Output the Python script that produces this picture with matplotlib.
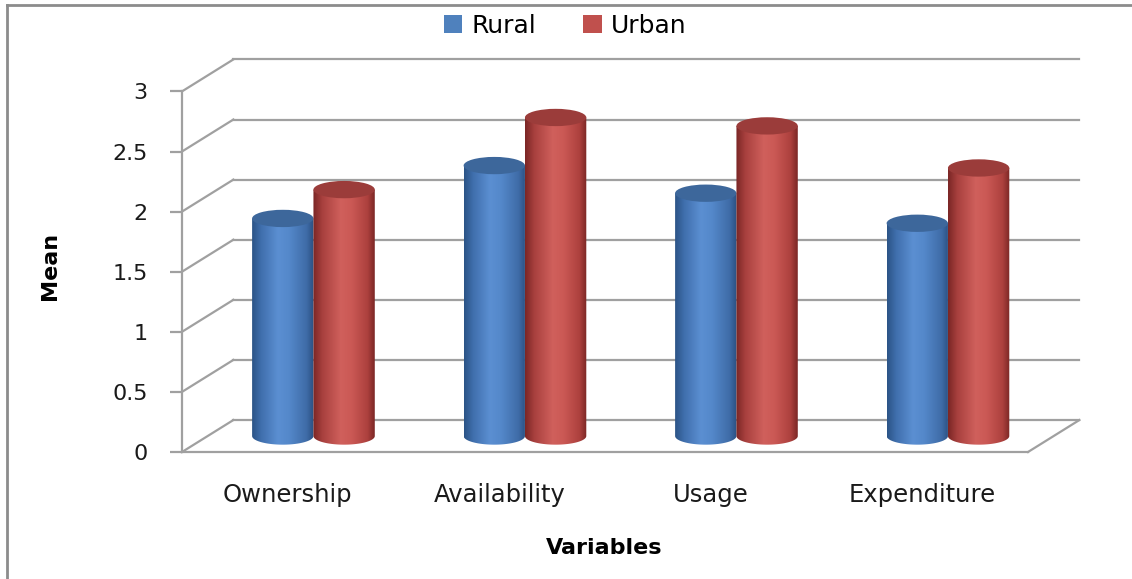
import numpy as np
import matplotlib
matplotlib.use("Agg")
import matplotlib.pyplot as plt
from matplotlib.patches import Ellipse, Patch, Polygon
from matplotlib.colors import LinearSegmentedColormap
from matplotlib.lines import Line2D

categories = ["Ownership", "Availability", "Usage", "Expenditure"]
rural = [1.81, 2.25, 2.02, 1.77]
urban = [2.05, 2.65, 2.58, 2.23]
yticks = [0, 0.5, 1, 1.5, 2, 2.5, 3]
yticklabels = ["0", "0.5", "1", "1.5", "2", "2.5", "3"]

# oblique depth of the 3-d box, in data units
DX = 0.243
DY = 0.266
BAR_W = 0.29
CAP_H = 0.072
GRID = "#a0a0a0"

blue_body = LinearSegmentedColormap.from_list("blue_body", [
    (0.0, "#2b5386"), (0.15, "#406fad"), (0.42, "#5b8fd2"),
    (0.6, "#5488ca"), (0.88, "#3f6ca8"), (1.0, "#2b5081")])
red_body = LinearSegmentedColormap.from_list("red_body", [
    (0.0, "#7a2625"), (0.15, "#a8403e"), (0.45, "#d0605c"),
    (0.62, "#cb5955"), (0.88, "#ad413e"), (1.0, "#7b2725")])
BLUE_CAP = "#3d679b"
RED_CAP = "#9b3c3a"


def cylinder(ax, xc, value, cmap, cap_color, z):
    a = BAR_W / 2
    base = DY / 2
    top = base + value
    th = np.linspace(np.pi, 2 * np.pi, 80)
    bottom = np.column_stack([xc + a * np.cos(th), base + CAP_H * np.sin(th)])
    outline = np.vstack([bottom, [[xc + a, top], [xc - a, top]]])
    clip = Polygon(outline, closed=True, transform=ax.transData)
    grad = np.linspace(0, 1, 256).reshape(1, -1)
    im = ax.imshow(grad, cmap=cmap, extent=[xc - a, xc + a, base - CAP_H, top],
                   aspect="auto", interpolation="bilinear", origin="lower", zorder=z)
    im.set_clip_path(clip)
    ax.add_patch(Ellipse((xc, top), BAR_W, 2 * CAP_H, facecolor=cap_color,
                         edgecolor="none", zorder=z + 0.1))


W, H = 1132, 579
fig = plt.figure(figsize=(W / 100, H / 100), dpi=100)
fig.patch.set_facecolor("white")

px_x = 211.5
px_y = 120.2
ax = fig.add_axes([182 / W, (H - 452) / H, (4 + DX) * px_x / W, (3 + DY) * px_y / H])
ax.set_facecolor("none")

# back wall grid and side-wall diagonals
for v in yticks:
    ax.plot([-0.5 + DX, 3.5 + DX], [v + DY, v + DY], color=GRID, lw=1.6, zorder=1, clip_on=False)
    ax.plot([-0.5, -0.5 + DX], [v, v + DY], color=GRID, lw=1.6, zorder=1, clip_on=False)
ax.plot([3.5, 3.5 + DX], [0, DY], color=GRID, lw=1.6, zorder=1, clip_on=False)

x = np.arange(len(categories))
for i in range(len(categories)):
    cx = x[i] + DX / 2
    cylinder(ax, cx - BAR_W / 2, rural[i], blue_body, BLUE_CAP, 3)
    cylinder(ax, cx + BAR_W / 2, urban[i], red_body, RED_CAP, 4)

ax.set_xlim(-0.5, 3.5 + DX)
ax.set_ylim(0, 3 + DY)

for side in ["top", "right"]:
    ax.spines[side].set_visible(False)
for side in ["left", "bottom"]:
    ax.spines[side].set_color(GRID)
    ax.spines[side].set_linewidth(1.6)
ax.spines["left"].set_bounds(0, 3)
ax.spines["bottom"].set_bounds(-0.5, 3.5)

ax.set_yticks(yticks)
ax.set_yticklabels(yticklabels)
ax.tick_params(axis="y", direction="out", length=8.6, width=1.6, color=GRID,
               pad=16, labelsize=16, labelcolor="#1a1a1a")
ax.set_xticks(x)
ax.set_xticklabels(categories)
ax.tick_params(axis="x", length=0, pad=22, labelsize=17.5, labelcolor="#1a1a1a")

ax.set_ylabel("Mean", fontsize=16, fontweight="bold")
ax.yaxis.set_label_coords(60 / W, 1 - 266 / H, transform=fig.transFigure)
ax.set_xlabel("Variables", fontsize=16, fontweight="bold")
ax.xaxis.set_label_coords(604 / W, 1 - 548 / H, transform=fig.transFigure)
ax.xaxis.label.set_va("center")

fig.legend(handles=[Patch(facecolor="#4f81bd", label="Rural"),
                    Patch(facecolor="#c0504d", label="Urban")],
           loc="center", bbox_to_anchor=(565 / W, 1 - 26 / H), ncol=2, frameon=False,
           fontsize=18, handlelength=0.75, handleheight=0.75, handletextpad=0.35,
           columnspacing=1.9, borderpad=0)

# outer frame (left and top edges)
fig.add_artist(Line2D([7 / W, 7 / W], [0, 1 - 5 / H], transform=fig.transFigure,
                      color="#8c8c8c", lw=2))
fig.add_artist(Line2D([7 / W, 1], [1 - 5 / H, 1 - 5 / H], transform=fig.transFigure,
                      color="#8c8c8c", lw=2))

fig.savefig("out.png", dpi=100, facecolor="white")
